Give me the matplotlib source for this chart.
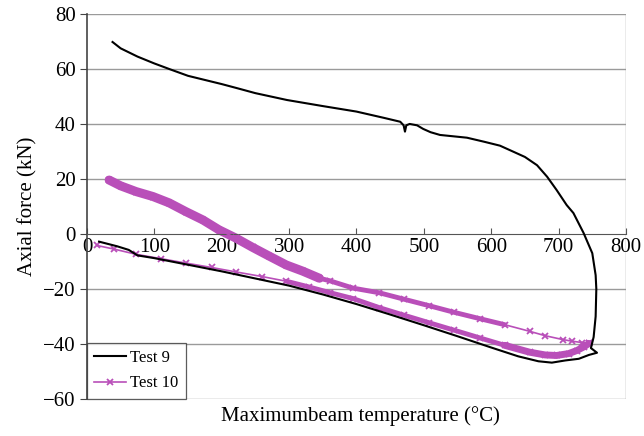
import numpy as np
import matplotlib
matplotlib.use("Agg")
import matplotlib.pyplot as plt

# ---- data ----
# Test 9: heating (lower branch) then cooling (upper branch)
t9_temp = [18, 45, 62, 75, 100, 150, 200, 250, 300, 350, 400, 450, 500, 550, 600,
           640, 670, 690, 710, 730, 745, 757, 748, 752, 755, 756, 755, 750, 737, 722,
           712, 697, 683, 668, 650, 632, 613, 590, 564, 540, 524, 510, 499, 490, 479,
           474, 472, 470, 465, 441, 400, 350, 297, 250, 223, 200, 150, 123, 100, 75,
           50, 38]
t9_force = [-2.8, -4.5, -5.8, -7.8, -8.8, -11.2, -13.6, -16.2, -18.8, -22.0, -25.5,
            -29.3, -33.2, -37.2, -41.3, -44.5, -46.3, -46.8, -46.0, -45.4, -44.0,
            -43.2, -41.5, -37.5, -30.0, -20.0, -15.0, -7.0, 0.4, 7.6, 10.5, 16.0,
            20.8, 25.0, 28.0, 30.0, 32.1, 33.5, 35.0, 35.6, 36.0, 37.0, 38.2, 39.5,
            40.0, 39.5, 37.2, 39.5, 40.8, 42.2, 44.5, 46.5, 48.7, 51.2, 53.0, 54.5,
            57.5, 59.9, 62.0, 64.5, 67.5, 69.8]

# Test 10: heating (lower branch)
t10_heat_temp = [15, 40, 73, 110, 147, 185, 221, 260, 296, 330, 360, 395, 434, 470,
                 508, 545, 583, 620, 657, 680, 697, 715, 727, 738, 745]
t10_heat_force = [-4.2, -5.5, -7.4, -9.0, -10.6, -12.2, -13.8, -15.5, -17.2, -19.3,
                  -21.3, -23.5, -26.8, -29.5, -32.3, -35.0, -37.8, -40.5, -43.0,
                  -44.0, -44.2, -43.5, -42.4, -41.0, -39.8]
# Test 10: cooling (upper branch)
t10_cool_temp = [745, 735, 720, 706, 680, 657, 620, 583, 545, 508, 470, 434, 395, 360,
                 345, 320, 296, 270, 246, 221, 196, 172, 147, 122, 98, 73, 50, 33]
t10_cool_force = [-39.8, -39.5, -39.0, -38.4, -37.0, -35.4, -33.0, -30.8, -28.5, -26.1,
                  -23.7, -21.4, -19.7, -17.0, -16.1, -13.5, -11.3, -8.0, -4.9, -1.5,
                  1.5, 5.1, 8.1, 11.3, 13.6, 15.4, 17.5, 19.6]

x_ticks = [0, 100, 200, 300, 400, 500, 600, 700, 800]
y_ticks = [-60, -40, -20, 0, 20, 40, 60, 80]

# ---- style ----
MAG = "#B94FB9"
plt.rcParams["font.family"] = ["Liberation Serif", "DejaVu Serif"]

fig = plt.figure(figsize=(6.44, 4.36), dpi=100)
ax = fig.add_axes([0.135, 0.085, 0.837, 0.883])

ax.set_xlim(0, 800)
ax.set_ylim(-60, 80)

for y in y_ticks:
    if y != 0:
        ax.axhline(y, color="#9a9a9a", lw=1.0, zorder=0)
ax.axvline(800, color="#9a9a9a", lw=1.0, zorder=0)

# Test 10 bands (dense data drawn as thick strokes)
ct = np.array(t10_cool_temp); cf = np.array(t10_cool_force)
ht = np.array(t10_heat_temp); hf = np.array(t10_heat_force)
m = ct <= 350
ax.plot(ct[m], cf[m], color=MAG, lw=6.5, solid_capstyle="round", zorder=2)
m = (ct >= 345) & (ct <= 620)
ax.plot(ct[m], cf[m], color=MAG, lw=3.5, solid_capstyle="round", zorder=2)
m = ht >= 296
ax.plot(ht[m], hf[m], color=MAG, lw=3.5, solid_capstyle="round", zorder=2)
m = ht >= 620
ax.plot(ht[m], hf[m], color=MAG, lw=5, solid_capstyle="round", zorder=2)

ax.plot(t10_heat_temp, t10_heat_force, color=MAG, lw=1.2, marker="x", ms=5,
        mew=1.3, zorder=3)
ax.plot(t10_cool_temp, t10_cool_force, color=MAG, lw=1.2, marker="x", ms=5,
        mew=1.3, zorder=3, label="Test 10")
ax.plot(t9_temp, t9_force, color="black", lw=1.5, zorder=4, label="Test 9")

# axes
for s in ["top", "right"]:
    ax.spines[s].set_visible(False)
ax.spines["bottom"].set_position(("data", 0))
ax.spines["bottom"].set_color("#555555")
ax.spines["left"].set_color("#444444")
ax.spines["left"].set_linewidth(1.2)
ax.set_xticks(x_ticks)
ax.set_yticks(y_ticks)
ax.set_yticklabels([str(v).replace("-", "\u2212") for v in y_ticks])
ax.tick_params(axis="x", direction="in", length=4, color="#555555", pad=3,
               labelsize=15)
ax.tick_params(axis="y", direction="out", length=5, color="#444444", pad=3,
               labelsize=15)

ax.set_ylabel("Axial force (kN)", fontsize=15, labelpad=4)
fig.text(0.56, 0.045, "Maximumbeam temperature (\u00b0C)", ha="center",
         va="center", fontsize=15)

h, l = ax.get_legend_handles_labels()
leg = ax.legend(h[::-1], l[::-1], loc="lower left", fontsize=12, frameon=True,
                fancybox=False, edgecolor="#333333", borderaxespad=0,
                handlelength=1.9, handletextpad=0.25, borderpad=0.45,
                labelspacing=0.55)
leg.get_frame().set_linewidth(0.9)

fig.savefig("out.png", dpi=100)
